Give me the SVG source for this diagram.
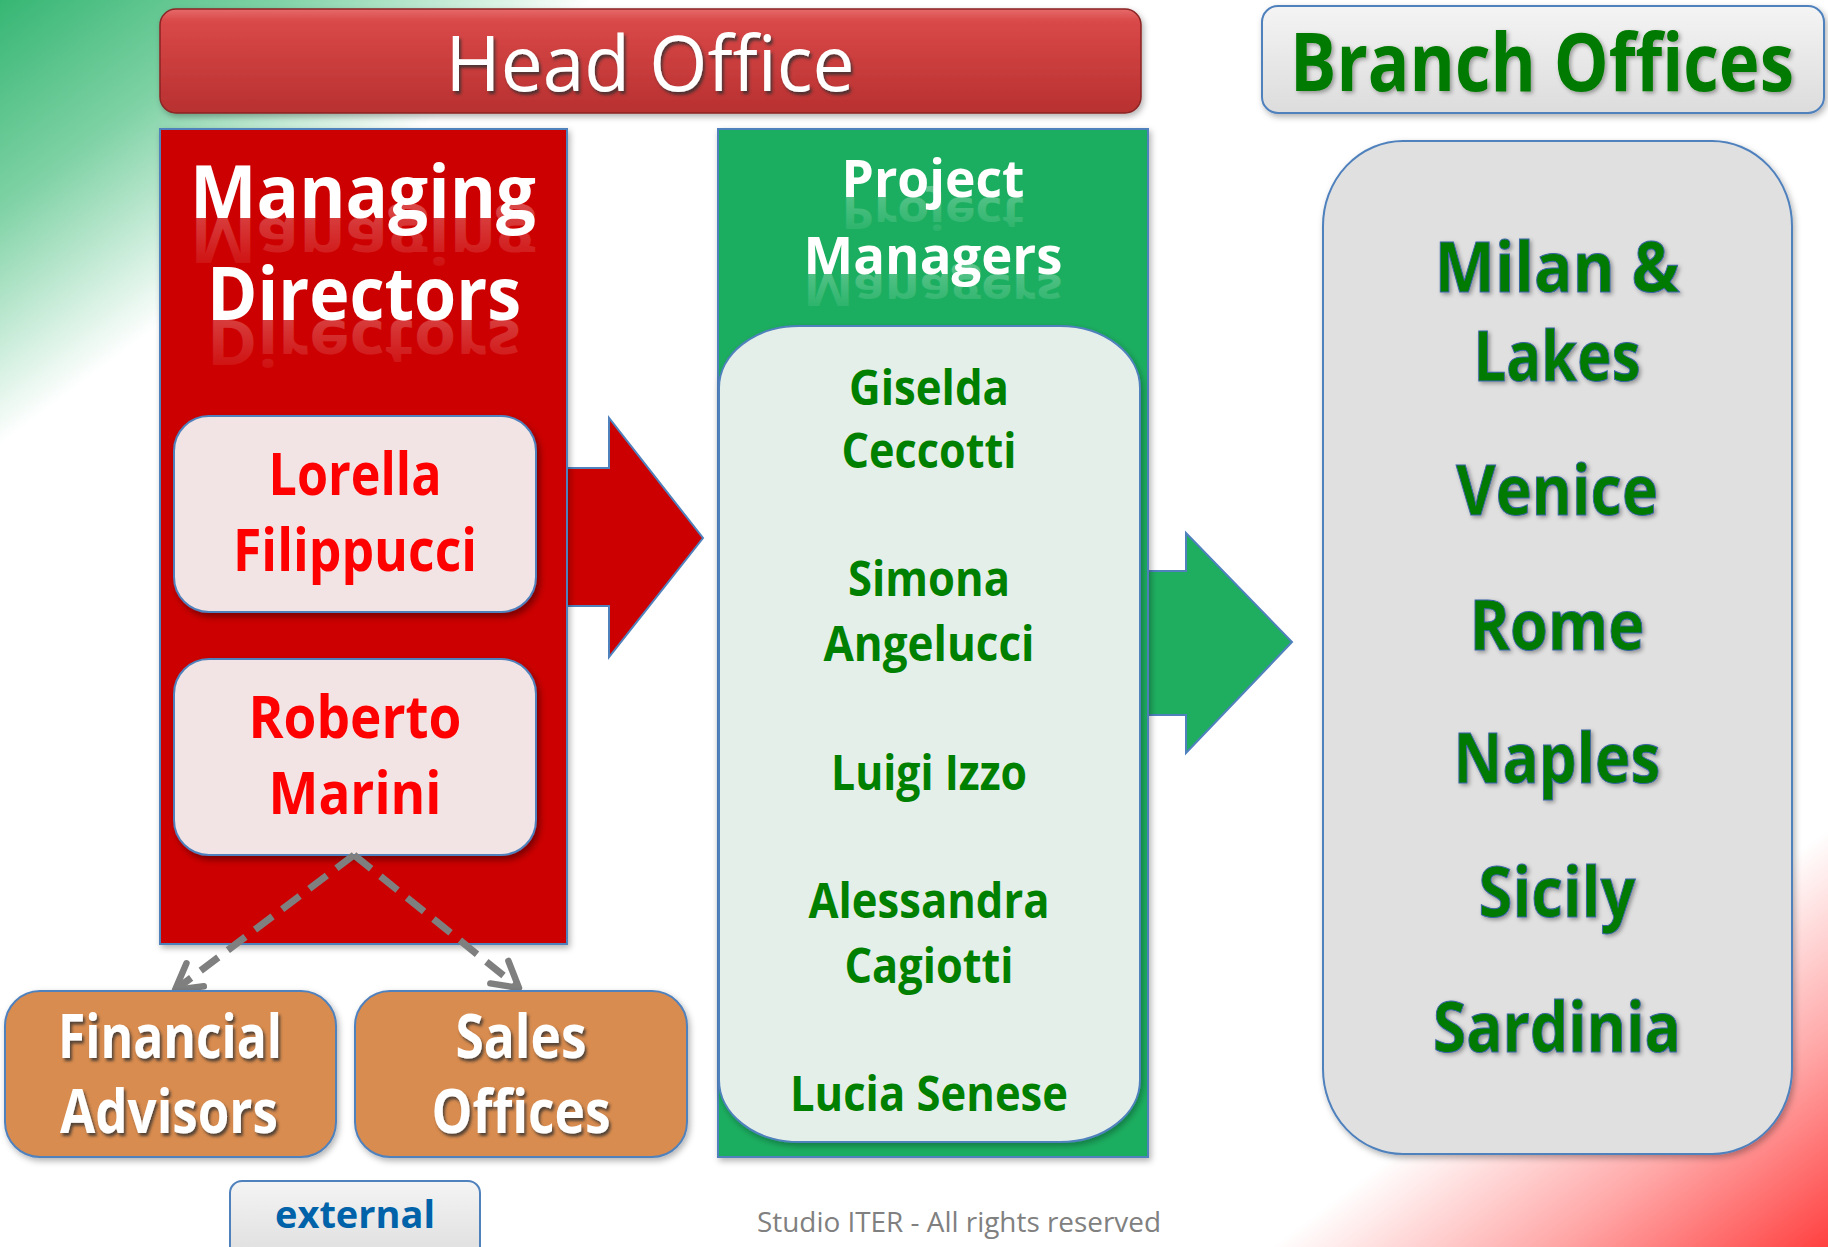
<svg xmlns="http://www.w3.org/2000/svg" width="1828" height="1247" viewBox="0 0 1828 1247">
<defs>
<linearGradient id="bg" gradientUnits="userSpaceOnUse" x1="0" y1="0" x2="1257" y2="1676">
<stop offset="0" stop-color="#36b673"/>
<stop offset="0.08" stop-color="#7fd2a5"/>
<stop offset="0.17" stop-color="#ffffff"/>
<stop offset="0.84" stop-color="#ffffff"/>
<stop offset="0.92" stop-color="#ffa8a8"/>
<stop offset="1" stop-color="#ff4040"/>
</linearGradient>
<linearGradient id="hoGrad" x1="0" y1="0" x2="0" y2="1">
<stop offset="0" stop-color="#e66a6a"/>
<stop offset="0.12" stop-color="#d94848"/>
<stop offset="1" stop-color="#b83030"/>
</linearGradient>
<linearGradient id="grayGrad" x1="0" y1="0" x2="0" y2="1">
<stop offset="0" stop-color="#f4f4f4"/>
<stop offset="1" stop-color="#dcdcdc"/>
</linearGradient>
<linearGradient id="reflW" x1="0" y1="0" x2="0" y2="1">
<stop offset="0" stop-color="#ffffff" stop-opacity="0"/>
<stop offset="1" stop-color="#ffffff" stop-opacity="0.3"/>
</linearGradient>
<filter id="shadow" x="-10%" y="-10%" width="130%" height="130%">
<feDropShadow dx="3" dy="4" stdDeviation="3" flood-color="#000" flood-opacity="0.4"/>
</filter>
<filter id="shadowSoft" x="-10%" y="-10%" width="130%" height="130%">
<feDropShadow dx="2" dy="3" stdDeviation="3" flood-color="#000" flood-opacity="0.3"/>
</filter>
<filter id="txtShadow" x="-10%" y="-20%" width="130%" height="150%">
<feDropShadow dx="2" dy="3" stdDeviation="1.5" flood-color="#333" flood-opacity="0.8"/>
</filter>
<filter id="txtShadowSoft" x="-10%" y="-20%" width="130%" height="150%">
<feDropShadow dx="2" dy="2" stdDeviation="2" flood-color="#000" flood-opacity="0.35"/>
</filter>
<marker id="openArrow" viewBox="0 0 20 20" refX="17" refY="10" markerWidth="36" markerHeight="36" markerUnits="userSpaceOnUse" orient="auto">
<path d="M3,2 L17,10 L3,18" fill="none" stroke="#7f7f7f" stroke-width="3.6" stroke-linecap="round" stroke-linejoin="round"/>
</marker>
</defs>
<style>
.sans{font-family:"Open Sans","Noto Sans","Liberation Sans",sans-serif;}
.b{font-weight:bold;}
.white{fill:#ffffff;}
.red{fill:#ff0000;}
.green{fill:#008000;}
.city{fill:#007a00;stroke:#3b64a8;stroke-width:1;}
.blueStroke{stroke:#4f81bd;stroke-width:2;}
.dash{stroke:#7f7f7f;stroke-width:7;fill:none;stroke-dasharray:22 12;}
</style>

<rect x="0" y="0" width="1828" height="1247" fill="url(#bg)"/>

<g id="head-office">
<rect x="160" y="9" width="981" height="104" rx="16" fill="url(#hoGrad)" stroke="#8a2525" stroke-width="1.5" filter="url(#shadowSoft)"/>
<text class="sans white" x="650" y="91" font-size="77" text-anchor="middle" textLength="409" lengthAdjust="spacingAndGlyphs" filter="url(#txtShadow)">Head Office</text>
</g>

<g id="branch-offices-header">
<rect x="1262" y="6" width="562" height="107" rx="16" fill="url(#grayGrad)" class="blueStroke" filter="url(#shadowSoft)"/>
<text class="sans b" x="1542" y="91" font-size="80" fill="#007a00" text-anchor="middle" textLength="504" lengthAdjust="spacingAndGlyphs" filter="url(#txtShadowSoft)">Branch Offices</text>
</g>

<g id="connectors">
<path id="arrow-red" d="M567,468 L609,468 L609,418 L703,538 L609,657 L609,606 L567,606 Z" fill="#cc0000" stroke="#4f81bd" stroke-width="2"/>
<path id="arrow-green" d="M1148,571 L1186,571 L1186,533 L1292,642 L1186,753 L1186,715 L1148,715 Z" fill="#1fae60" stroke="#4f81bd" stroke-width="2"/>
</g>

<g id="managing-directors">
<rect x="160" y="129" width="407" height="815" fill="#cc0000" stroke="#4f81bd" stroke-width="2" filter="url(#shadowSoft)"/>
<text class="sans b white" x="363" y="218" font-size="74" text-anchor="middle" textLength="346" lengthAdjust="spacingAndGlyphs">Managing</text>
<text class="sans b" x="363" y="218" font-size="74" text-anchor="middle" textLength="346" lengthAdjust="spacingAndGlyphs" fill="url(#reflW)" transform="translate(0,403.3) scale(1,-0.85)">Managing</text>
<text class="sans b white" x="364" y="320" font-size="74" text-anchor="middle" textLength="314" lengthAdjust="spacingAndGlyphs">Directors</text>
<text class="sans b" x="364" y="320" font-size="74" text-anchor="middle" textLength="314" lengthAdjust="spacingAndGlyphs" fill="url(#reflW)" transform="translate(0,592) scale(1,-0.85)">Directors</text>
</g>

<g id="lorella-filippucci">
<rect x="174" y="416" width="362" height="196" rx="35" fill="#f2e4e4" class="blueStroke" filter="url(#shadow)"/>
<text class="sans b red" x="355" y="495" font-size="59" text-anchor="middle" textLength="173" lengthAdjust="spacingAndGlyphs">Lorella</text>
<text class="sans b red" x="355" y="571" font-size="59" text-anchor="middle" textLength="244" lengthAdjust="spacingAndGlyphs">Filippucci</text>
</g>

<g id="roberto-marini">
<rect x="174" y="659" width="362" height="196" rx="35" fill="#f2e4e4" class="blueStroke" filter="url(#shadow)"/>
<text class="sans b red" x="355" y="738" font-size="59" text-anchor="middle" textLength="213" lengthAdjust="spacingAndGlyphs">Roberto</text>
<text class="sans b red" x="355" y="814" font-size="59" text-anchor="middle" textLength="173" lengthAdjust="spacingAndGlyphs">Marini</text>
</g>

<g id="dashed-connectors">
<line class="dash" x1="354" y1="855" x2="175" y2="990" marker-end="url(#openArrow)"/>
<line class="dash" x1="354" y1="855" x2="519" y2="988" marker-end="url(#openArrow)"/>
</g>

<g id="project-managers">
<rect x="718" y="129" width="430" height="1028" fill="#1fae60" stroke="#4f81bd" stroke-width="2" filter="url(#shadowSoft)"/>
<text class="sans b white" x="933" y="197" font-size="52" text-anchor="middle" textLength="183" lengthAdjust="spacingAndGlyphs">Project</text>
<text class="sans b" x="933" y="197" font-size="52" text-anchor="middle" textLength="183" lengthAdjust="spacingAndGlyphs" fill="url(#reflW)" transform="translate(0,364.5) scale(1,-0.85)">Project</text>
<text class="sans b white" x="933" y="274" font-size="52" text-anchor="middle" textLength="259" lengthAdjust="spacingAndGlyphs">Managers</text>
<text class="sans b" x="933" y="274" font-size="52" text-anchor="middle" textLength="259" lengthAdjust="spacingAndGlyphs" fill="url(#reflW)" transform="translate(0,506.9) scale(1,-0.85)">Managers</text>
<rect x="719" y="326" width="421" height="816" rx="80" ry="62" fill="#e5efea" class="blueStroke" filter="url(#shadowSoft)"/>
<text class="sans b green" x="929" y="405" font-size="49" text-anchor="middle" textLength="160" lengthAdjust="spacingAndGlyphs">Giselda</text>
<text class="sans b green" x="929" y="468" font-size="49" text-anchor="middle" textLength="175" lengthAdjust="spacingAndGlyphs">Ceccotti</text>
<text class="sans b green" x="929" y="596" font-size="49" text-anchor="middle" textLength="162" lengthAdjust="spacingAndGlyphs">Simona</text>
<text class="sans b green" x="929" y="661" font-size="49" text-anchor="middle" textLength="211" lengthAdjust="spacingAndGlyphs">Angelucci</text>
<text class="sans b green" x="929" y="790" font-size="49" text-anchor="middle" textLength="196" lengthAdjust="spacingAndGlyphs">Luigi Izzo</text>
<text class="sans b green" x="929" y="918" font-size="49" text-anchor="middle" textLength="241" lengthAdjust="spacingAndGlyphs">Alessandra</text>
<text class="sans b green" x="929" y="983" font-size="49" text-anchor="middle" textLength="169" lengthAdjust="spacingAndGlyphs">Cagiotti</text>
<text class="sans b green" x="929" y="1111" font-size="49" text-anchor="middle" textLength="278" lengthAdjust="spacingAndGlyphs">Lucia Senese</text>
</g>

<g id="branch-offices">
<rect x="1323" y="141" width="469" height="1013" rx="80" ry="85" fill="#e0e0e0" class="blueStroke" filter="url(#shadowSoft)"/>
<text class="sans b city" x="1557" y="292" font-size="70" text-anchor="middle" textLength="245" lengthAdjust="spacingAndGlyphs" filter="url(#txtShadowSoft)">Milan &amp;</text>
<text class="sans b city" x="1557" y="381" font-size="70" text-anchor="middle" textLength="167" lengthAdjust="spacingAndGlyphs" filter="url(#txtShadowSoft)">Lakes</text>
<text class="sans b city" x="1557" y="515" font-size="70" text-anchor="middle" textLength="202" lengthAdjust="spacingAndGlyphs" filter="url(#txtShadowSoft)">Venice</text>
<text class="sans b city" x="1557" y="650" font-size="70" text-anchor="middle" textLength="175" lengthAdjust="spacingAndGlyphs" filter="url(#txtShadowSoft)">Rome</text>
<text class="sans b city" x="1557" y="783" font-size="70" text-anchor="middle" textLength="207" lengthAdjust="spacingAndGlyphs" filter="url(#txtShadowSoft)">Naples</text>
<text class="sans b city" x="1557" y="917" font-size="70" text-anchor="middle" textLength="157" lengthAdjust="spacingAndGlyphs" filter="url(#txtShadowSoft)">Sicily</text>
<text class="sans b city" x="1557" y="1052" font-size="70" text-anchor="middle" textLength="248" lengthAdjust="spacingAndGlyphs" filter="url(#txtShadowSoft)">Sardinia</text>
</g>

<g id="financial-advisors">
<rect x="5" y="991" width="331" height="166" rx="35" fill="#d98c50" class="blueStroke" filter="url(#shadowSoft)"/>
<text class="sans b white" x="170" y="1058" font-size="60" text-anchor="middle" textLength="224" lengthAdjust="spacingAndGlyphs" filter="url(#txtShadow)">Financial</text>
<text class="sans b white" x="169" y="1133" font-size="60" text-anchor="middle" textLength="218" lengthAdjust="spacingAndGlyphs" filter="url(#txtShadow)">Advisors</text>
</g>

<g id="sales-offices">
<rect x="355" y="991" width="332" height="166" rx="35" fill="#d98c50" class="blueStroke" filter="url(#shadowSoft)"/>
<text class="sans b white" x="521" y="1058" font-size="60" text-anchor="middle" textLength="131" lengthAdjust="spacingAndGlyphs" filter="url(#txtShadow)">Sales</text>
<text class="sans b white" x="521" y="1133" font-size="60" text-anchor="middle" textLength="179" lengthAdjust="spacingAndGlyphs" filter="url(#txtShadow)">Offices</text>
</g>

<g id="external">
<rect x="230" y="1181" width="250" height="85" rx="12" fill="url(#grayGrad)" class="blueStroke"/>
<text class="sans b" x="355" y="1228" font-size="38" fill="#0062a8" text-anchor="middle" textLength="160" lengthAdjust="spacingAndGlyphs">external</text>
</g>

<text class="sans" x="959" y="1232" font-size="27" fill="#808080" text-anchor="middle" textLength="404" lengthAdjust="spacingAndGlyphs">Studio ITER - All rights reserved</text>
</svg>
